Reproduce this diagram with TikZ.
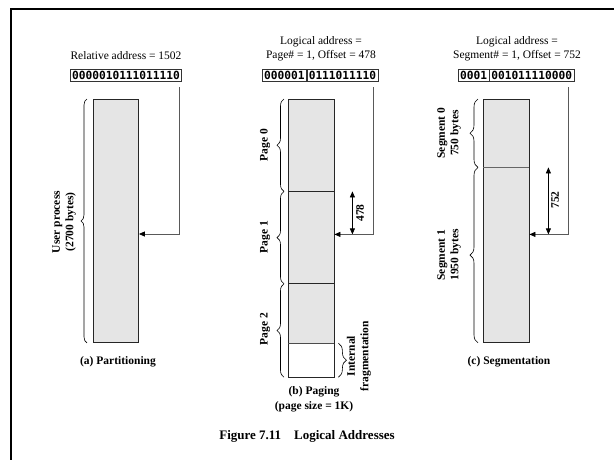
\documentclass[tikz,border=0pt]{standalone}
\usepackage{fontspec}
\setmainfont{Liberation Serif}
\newfontfamily\binfont{DejaVu Sans Mono}
\usetikzlibrary{decorations.pathreplacing,arrows.meta,calc}

\begin{document}
\begin{tikzpicture}[x=1pt,y=-1pt,
  lbl/.style={font=\fontsize{11.5}{13.5}\selectfont, inner sep=0pt, align=center},
  blbl/.style={lbl, font=\fontsize{11.5}{13.5}\selectfont\bfseries},
  vlbl/.style={blbl, rotate=90},
  bits/.style={draw=black!80, line width=0.6pt, inner xsep=1.8pt, inner ysep=0pt,
    minimum height=11.5pt, font=\binfont\bfseries\fontsize{11.2}{12}\selectfont},
  mem/.style={draw=black!85, line width=0.9pt, fill=black!10, inner sep=0pt, minimum width=46pt},
  memfill/.style={fill=black!10, inner sep=0pt, minimum width=46pt},
  brc/.style={decorate, decoration={brace, amplitude=#1}, line width=0.6pt},
  brc/.default=7pt,
  link/.style={draw=black!65, line width=0.8pt, -{Triangle[length=6pt,width=5pt,black]}},
  span/.style={line width=0.8pt, {Triangle[length=6pt,width=5pt]}-{Triangle[length=6pt,width=5pt]}},
]
\fill[white] (0,0) rectangle (614,459);
\useasboundingbox (0,0) rectangle (614,459);

% page frame
\draw[line width=2.7pt] (11,470) -- (11,9) -- (625,9);

% ---------- (a) Partitioning ----------
\node[lbl] (reltitle) at (126,56) {Relative address = 1502};
\node[bits] (abits) at (126,75.5) {0000010111011110};
\node[mem, minimum width=45pt, minimum height=243pt, anchor=north west] (proc) at (93,99) {};
\draw[brc=6pt] ($(proc.south west)+(-6,0)$) -- ($(proc.north west)+(-6,0)$);
\node[vlbl] (proclbl) at (64,222) {User process\\(2700 bytes)};
\coordinate (atap) at (179,87);
\coordinate (ahit) at ($(proc.north east)+(0,135)$);
\draw[link] (atap) |- (ahit);
\node[blbl] (acap) at (118,362) {(a) Partitioning};

% ---------- (b) Paging ----------
\node[lbl] (blog) at (321,42) {Logical address =};
\node[lbl] (bpg) at (321,56) {Page\# = 1, Offset = 478};
\node[bits, anchor=west] (bpage) at (262,75.5) {000001};
\node[bits, anchor=west] (boff) at (bpage.east) {0111011110};
\node[memfill, minimum height=92pt, anchor=north west] (pg0) at (288,99) {};
\node[memfill, minimum height=92pt, anchor=north] (pg1) at (pg0.south) {};
\node[memfill, minimum height=93pt, anchor=north, fill=white] (pg2) at (pg1.south) {};
\node[memfill, minimum height=59pt, anchor=north] (used) at (pg2.north) {};
\draw[black!85, line width=0.9pt] (pg0.north west) rectangle (pg2.south east);
\draw[black!85, line width=0.9pt] (pg0.south west) -- (pg0.south east);
\draw[black!85, line width=0.9pt] (pg1.south west) -- (pg1.south east);
\draw[black!70, line width=0.6pt] (used.south west) -- (used.south east);
\draw[brc] ($(pg0.south west)+(-4,0)$) -- ($(pg0.north west)+(-4,0)$);
\draw[brc] ($(pg1.south west)+(-4,0)$) -- ($(pg1.north west)+(-4,0)$);
\draw[brc] ($(pg2.south west)+(-4,0)$) -- ($(pg2.north west)+(-4,0)$);
\node[vlbl] (pl0) at (265,145) {Page 0};
\node[vlbl] (pl1) at (265,237) {Page 1};
\node[vlbl] (pl2) at (265,329) {Page 2};
\coordinate (b478top) at ($(pg1.north east)+(18,0)$);
\coordinate (b478bot) at ($(pg1.north east)+(18,43)$);
\draw[span] (b478top) -- (b478bot);
\node[vlbl] (o478) at (360,213) {478};
\coordinate (btap) at (373,87);
\coordinate (bhit) at ($(pg1.north east)+(0,43)$);
\draw[link] (btap) |- (bhit);
\draw[brc=8pt] ($(used.south east)+(4,0)$) -- ($(pg2.south east)+(4,0)$);
\node[vlbl] (frag) at (359,356) {Internal\\fragmentation};
\node[blbl, font=\fontsize{11.5}{15}\selectfont\bfseries] (bcap) at (314,399.5) {(b) Paging\\(page size = 1K)};

% ---------- (c) Segmentation ----------
\node[lbl] (clog) at (517,42) {Logical address =};
\node[lbl] (cseg) at (517,56) {Segment\# = 1, Offset = 752};
\node[bits, anchor=west] (cnum) at (458,75.5) {0001};
\node[bits, anchor=west] (coff) at (cnum.east) {001011110000};
\node[memfill, minimum height=68pt, anchor=north west] (sg0) at (483,99) {};
\node[memfill, minimum height=175pt, anchor=north] (sg1) at (sg0.south) {};
\draw[black!85, line width=0.9pt] (sg0.north west) rectangle (sg1.south east);
\draw[black!60, line width=0.6pt] (sg0.south west) -- (sg0.south east);
\draw[brc=8pt] ($(sg0.south west)+(-5,0)$) -- ($(sg0.north west)+(-5,0)$);
\draw[brc=8pt] ($(sg1.south west)+(-5,0)$) -- ($(sg1.north west)+(-5,0)$);
\node[vlbl] (sl0) at (449,133) {Segment 0\\750 bytes};
\node[vlbl] (sl1) at (449,255) {Segment 1\\1950 bytes};
\coordinate (c752top) at ($(sg1.north east)+(19,0)$);
\coordinate (c752bot) at ($(sg1.north east)+(19,67)$);
\draw[span] (c752top) -- (c752bot);
\node[vlbl] (o752) at (555,200) {752};
\coordinate (ctap) at (568,87);
\coordinate (chit) at ($(sg1.north east)+(0,67)$);
\draw[link] (ctap) |- (chit);
\node[blbl] (ccap) at (509,362) {(c) Segmentation};

% ---------- figure caption ----------
\node[blbl, font=\fontsize{13}{15}\selectfont\bfseries] (fig) at (307,436) {Figure 7.11\hspace{1em}Logical Addresses};
\end{tikzpicture}
\end{document}
